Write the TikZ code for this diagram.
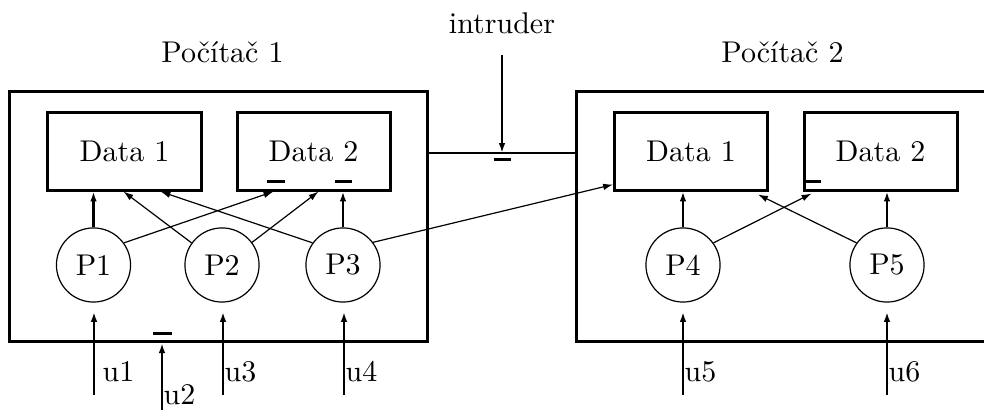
\documentclass[tikz,border=0pt]{standalone}
\usepackage{fontspec}
\usetikzlibrary{arrows.meta,calc}
\begin{document}
\begin{tikzpicture}[x=0.33333pt,y=-0.33333pt,
  host/.style={draw,line width=1pt,minimum height=83.3pt,inner sep=0pt},
  store/.style={draw,line width=1pt,minimum width=51pt,minimum height=25.7pt,inner sep=0pt},
  proc/.style={draw,circle,line width=0.4pt,minimum size=24.7pt,inner sep=0pt},
  flow/.style={-{Latex[length=3.3pt,width=2.2pt]},line width=0.4pt},
  feed/.style={flow,line width=0.75pt},
  barmark/.style={line width=1pt},
  lbl/.style={anchor=base west,inner sep=0pt}]
\useasboundingbox[clip] (0,0) rectangle (984,410);

% computers
\node[host,minimum width=139pt] (pc1) at (218.5,216.7) {};
\node[host,minimum width=137.7pt] (pc2) at (783.5,216.7) {};
\node[anchor=base] (t1) at (222.5,63) {Počítač 1};
\node[anchor=base] (t2) at (782.5,63) {Počítač 2};

% data stores
\node[store] (D1) at (124.5,151.5) {Data 1};
\node[store] (D2) at (313.5,151.5) {Data 2};
\node[store] (RD1) at (691,151.5) {Data 1};
\node[store] (RD2) at (880.5,151.5) {Data 2};

% processes
\node[proc] (P1) at (93.5,265) {P1};
\node[proc] (P2) at (222,265) {P2};
\node[proc] (P3) at (343,265) {P3};
\node[proc] (P4) at (683,265) {P4};
\node[proc] (P5) at (887,265) {P5};

% link between the computers and the intruder
\coordinate (lk) at (502,153);
\draw[line width=0.4pt] (pc1.east |- lk) -- (pc2.west |- lk);
\node[anchor=base] (intr) at (502,34) {intruder};
\draw[flow,line width=0.9pt] ([yshift=-3.3pt]intr.south) -- (lk);

% process to data access
\draw[feed] (P1.north) -- (P1.north |- D1.south);
\draw[feed] (P3.north) -- (P3.north |- D2.south);
\draw[feed] (P4.north) -- (P4.north |- RD1.south);
\draw[feed] (P5.north) -- (P5.north |- RD2.south);
\draw[flow] (P1.36) -- ($(D2.south west)+(38,0)$);
\draw[flow] (P2.144) -- ($(D1.south west)+(77,0)$);
\draw[flow] (P2.37) -- ($(D2.south west)+(83,0)$);
\draw[flow] (P3.144) -- ($(D1.south west)+(114,0)$);
\draw[flow] (P3.37) -- ($(RD1.south west)+(0,-7)$);
\draw[flow] (P4.36) -- ($(RD2.south west)+(9,2)$);
\draw[flow] (P5.144) -- ($(RD1.south west)+(145,3)$);

% inputs
\coordinate (u1) at (94,395);
\coordinate (u2) at (162,410);
\coordinate (u3) at (223,395);
\coordinate (u4) at (344,395);
\coordinate (u5) at (683,395);
\coordinate (u6) at (887,395);
\draw[feed] (u1) -- (u1 |- 0,312);
\draw[feed] (u2) -- (u2 |- pc1.south);
\draw[feed] (u3) -- (u3 |- 0,312);
\draw[feed] (u4) -- (u4 |- 0,312);
\draw[feed] (u5) -- (u5 |- 0,312);
\draw[feed] (u6) -- (u6 |- 0,312);
\node[lbl] (l1) at (102,382) {u1};
\node[lbl] (l2) at (163,405) {u2};
\node[lbl] (l3) at (224,382) {u3};
\node[lbl] (l4) at (345,382) {u4};
\node[lbl] (l5) at (684,382) {u5};
\node[lbl] (l6) at (888,382) {u6};

% guard marks
\draw[barmark] (267,182) -- (285,182);
\draw[barmark] (335,182) -- (352,182);
\draw[barmark] (805,182) -- (821,182);
\draw[barmark] (153,334) -- (172,334);
\draw[barmark] (494,160) -- (511,160);
\end{tikzpicture}
\end{document}
